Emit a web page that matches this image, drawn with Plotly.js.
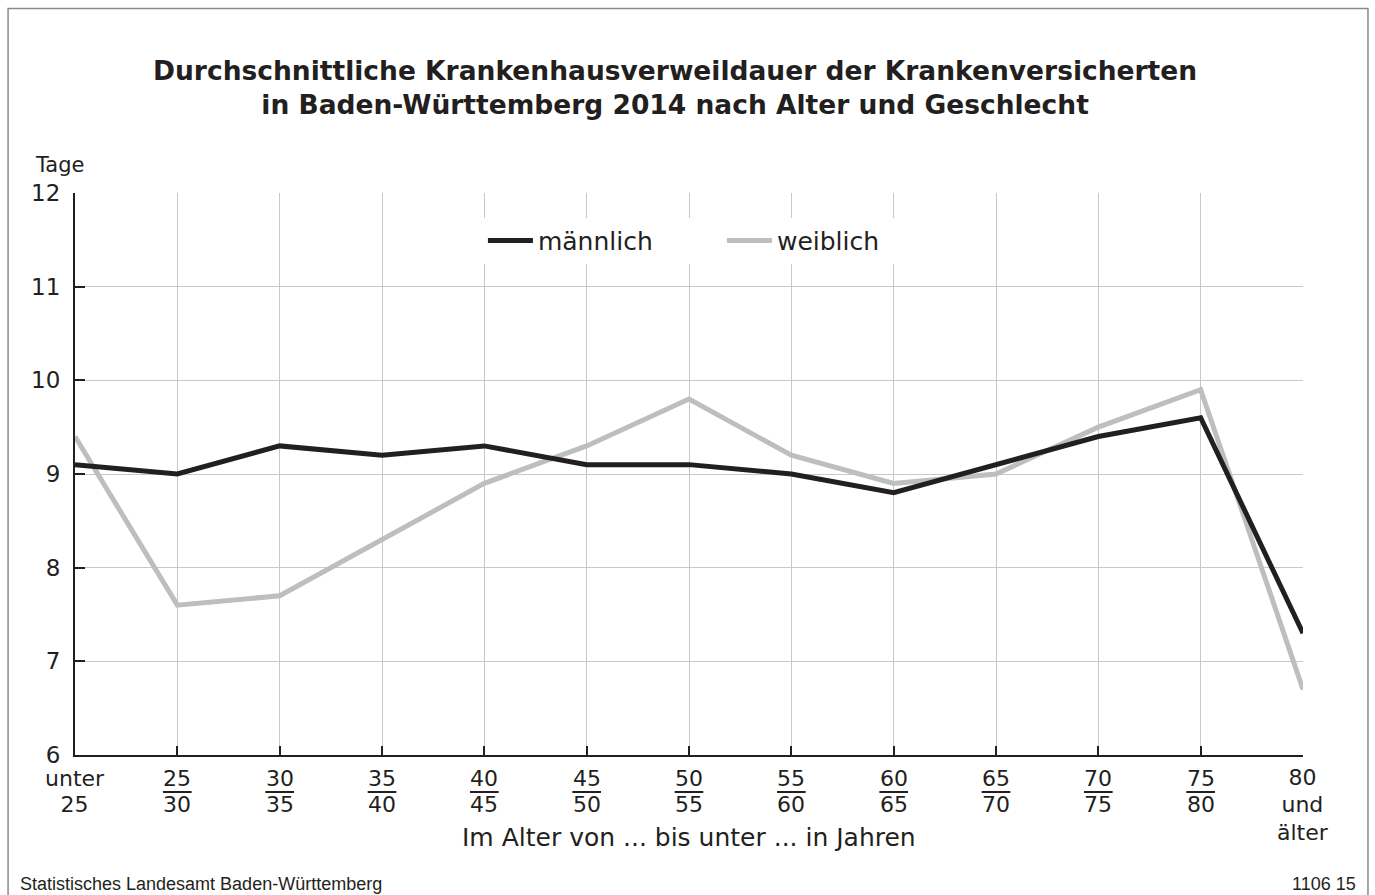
<!DOCTYPE html>
<html>
<head>
<meta charset="utf-8">
<script src="https://cdn.plot.ly/plotly-3.0.1.min.js"></script>
<style>
  html, body { margin: 0; padding: 0; background: #fff; }
  #chart { width: 1375px; height: 895px; }
</style>
</head>
<body>
<div id="chart"></div>
<script>
// ---- data ----
const categories = ["unter 25", "25–30", "30–35", "35–40", "40–45", "45–50", "50–55",
                    "55–60", "60–65", "65–70", "70–75", "75–80", "80 und älter"];
// tick labels, row by row (top / bottom / third line)
const tickTop    = ["unter", "25", "30", "35", "40", "45", "50", "55", "60", "65", "70", "75", "80"];
const tickBottom = ["25", "30", "35", "40", "45", "50", "55", "60", "65", "70", "75", "80", "und"];
const tickThird  = ["", "", "", "", "", "", "", "", "", "", "", "", "älter"];
const fractionTicks = [1, 2, 3, 4, 5, 6, 7, 8, 9, 10, 11]; // labels drawn as "a over b"
const maennlich = [9.1, 9.0, 9.3, 9.2, 9.3, 9.1, 9.1, 9.0, 8.8, 9.1, 9.4, 9.6, 7.3];
const weiblich  = [9.4, 7.6, 7.7, 8.3, 8.9, 9.3, 9.8, 9.2, 8.9, 9.0, 9.5, 9.9, 6.7];
const yTicks = [6, 7, 8, 9, 10, 11, 12];

const FONT = "DejaVu Sans, Verdana, sans-serif";
const FOOTFONT = "Liberation Sans, Arial, sans-serif";
const DARK = "#231f20";
const GREY = "#bcbec0";

const idx = categories.map((c, i) => i);

const traces = [
  { x: idx, y: weiblich, name: "weiblich", type: "scatter", mode: "lines",
    line: { color: GREY, width: 5 }, hoverinfo: "skip" },
  { x: idx, y: maennlich, name: "männlich", type: "scatter", mode: "lines",
    line: { color: DARK, width: 5 }, hoverinfo: "skip" }
];

const shapes = fractionTicks.map(i => ({
  type: "line", xref: "x", yref: "paper",
  x0: i - 0.14, x1: i + 0.14, y0: -0.0658, y1: -0.0658,
  line: { color: DARK, width: 2 }
}));
// outer frame
shapes.push({
  type: "rect", xref: "paper", yref: "paper",
  x0: -0.0545, x1: 1.0529, y0: -0.4, y1: 1.3285,
  line: { color: "#8a8a8a", width: 1.5 }, layer: "below"
});

const annotations = [];
// one text per category; tight line spacing via small base font + larger spans
idx.forEach(i => {
  const lines = [tickTop[i], tickBottom[i], tickThird[i]].filter(Boolean);
  const three = lines.length === 3;
  annotations.push({
    text: lines.map(l => '<span style="font-size:22px">' + l + '</span>').join('<br>'),
    xref: "x", yref: "paper", x: i, y: three ? -0.0890 : -0.0655,
    xanchor: "center", yanchor: "middle", showarrow: false, align: "center",
    font: { family: FONT, size: three ? 21 : 19.8, color: DARK }
  });
});
annotations.push(
  { text: "<b>Durchschnittliche Krankenhausverweildauer der Krankenversicherten<br>in Baden-Württemberg 2014 nach Alter und Geschlecht</b>",
    xref: "paper", yref: "paper", x: 0.4886, y: 1.1886, xanchor: "center", yanchor: "middle",
    showarrow: false, font: { family: FONT, size: 26.5, color: DARK }, align: "center" },
  { text: "Tage", xref: "paper", yref: "paper", x: -0.0342, y: 1.025,
    xanchor: "left", yanchor: "bottom", showarrow: false,
    font: { family: FONT, size: 21, color: DARK } },
  { text: "Im Alter von ... bis unter ... in Jahren", xref: "paper", yref: "paper",
    x: 0.5, y: -0.1468, xanchor: "center", yanchor: "middle", showarrow: false,
    font: { family: FONT, size: 25, color: DARK } },
  { text: "Statistisches Landesamt Baden-Württemberg", xref: "paper", yref: "paper",
    x: -0.0465, y: -0.2304, xanchor: "left", yanchor: "middle", showarrow: false,
    font: { family: FOOTFONT, size: 18, color: DARK } },
  { text: "1106 15", xref: "paper", yref: "paper",
    x: 1.0448, y: -0.2304, xanchor: "right", yanchor: "middle", showarrow: false,
    font: { family: FOOTFONT, size: 18, color: DARK } }
);

const layout = {
  width: 1375, height: 895,
  margin: { l: 75, r: 72, t: 193, b: 140 },
  paper_bgcolor: "#fff", plot_bgcolor: "#fff",
  font: { family: FONT, color: DARK, size: 23 },
  showlegend: true,
  hovermode: false,
  legend: {
    orientation: "h", x: 0.3322, xanchor: "left", y: 0.915, yanchor: "middle",
    bgcolor: "#fff", font: { family: FONT, size: 25, color: DARK },
    traceorder: "reversed", entrywidth: 179, itemwidth: 45,
    itemclick: false, itemdoubleclick: false
  },
  xaxis: {
    range: [0, 12], tickmode: "array", tickvals: idx, showticklabels: false,
    showgrid: true, gridcolor: "#c8c8c8", gridwidth: 1.3,
    showline: true, linecolor: DARK, linewidth: 2,
    ticks: "inside", ticklen: 9, tickwidth: 2, tickcolor: DARK,
    zeroline: false, fixedrange: true
  },
  yaxis: {
    range: [6, 12], tickmode: "array", tickvals: yTicks,
    showgrid: true, gridcolor: "#c8c8c8", gridwidth: 1.3,
    showline: true, linecolor: DARK, linewidth: 2,
    ticks: "inside", ticklen: 10, tickwidth: 2, tickcolor: DARK,
    tickfont: { family: FONT, size: 23, color: DARK },
    ticklabelstandoff: 8,
    zeroline: false, fixedrange: true
  },
  shapes: shapes,
  annotations: annotations
};

Plotly.newPlot("chart", traces, layout, { displayModeBar: false });
</script>
</body>
</html>
